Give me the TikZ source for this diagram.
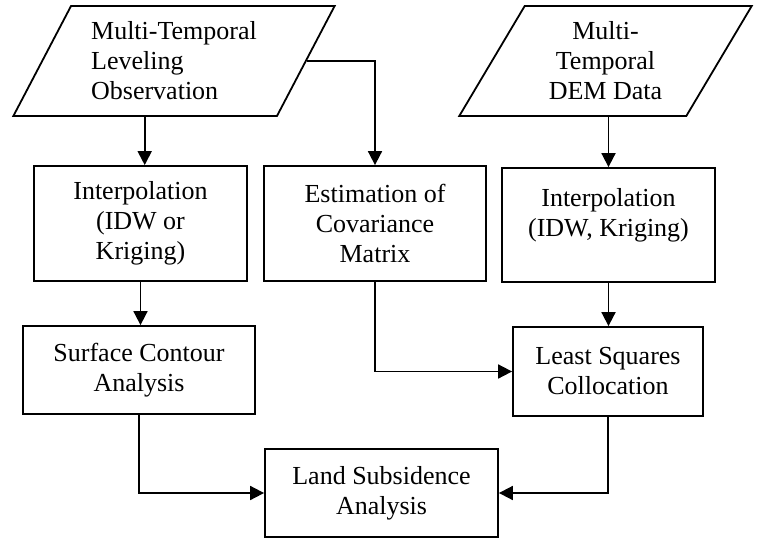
\documentclass[tikz,border=0pt]{standalone}
\usepackage{fontspec}
\setmainfont{Liberation Serif}
\usetikzlibrary{shapes.geometric,arrows.meta,positioning,calc}

\begin{document}
\begin{tikzpicture}[
    x=1pt, y=-1pt,
    >={Triangle[length=14pt,width=14pt]},
    font=\fontsize{26}{30}\selectfont,
    box/.style={draw, line width=1.8pt, rectangle, align=center, inner sep=2pt},
    data/.style={draw, line width=1.8pt, trapezium, trapezium left angle=60, trapezium right angle=120,
        trapezium stretches=true, minimum height=110pt, inner sep=2pt},
    flow/.style={->, line width=1.8pt}
]
    \useasboundingbox (0,0) rectangle (757,540);

    % Inputs
    \node[data, minimum width=322pt, align=left] (level) at (174,61) {Multi-Temporal\\Leveling\\Observation};
    \node[data, minimum width=293pt, align=center] (dem) at (605.5,61) {Multi-\\Temporal\\DEM Data};

    % Processing
    \node[box, minimum width=213pt, minimum height=115pt] (interpA) at (140.5,223.5) {Interpolation\\(IDW or\\Kriging)};
    \node[box, minimum width=222pt, minimum height=115pt] (covar) at (375,223.5) {Estimation of\\Covariance\\Matrix};
    \node[box, minimum width=213pt, minimum height=114pt, text depth=26pt] (interpB) at (608.5,225) {Interpolation\\(IDW, Kriging)};
    \node[box, minimum width=232pt, minimum height=88pt] (contour) at (139,370) {Surface Contour\\Analysis};
    \node[box, minimum width=190pt, minimum height=89pt] (lsc) at (608,371.5) {Least Squares\\Collocation};

    % Output
    \node[box, minimum width=233pt, minimum height=88pt] (lsa) at (381.5,493) {Land Subsidence\\Analysis};

    % Flow
    \draw[flow] (level.bottom side) -- (level.bottom side |- interpA.north);
    \draw[flow] (level.right side) -| (covar.north);
    \draw[flow] (dem.bottom side -| interpB.north) -- (interpB.north);
    \draw[flow] (interpA.south) -- (interpA.south |- contour.north);
    \draw[flow] (interpB.south) -- (interpB.south |- lsc.north);
    \draw[flow] (covar.south) |- (lsc.west);
    \draw[flow] (contour.south) |- (lsa.west);
    \draw[flow] (lsc.south) |- (lsa.east);
\end{tikzpicture}
\end{document}
